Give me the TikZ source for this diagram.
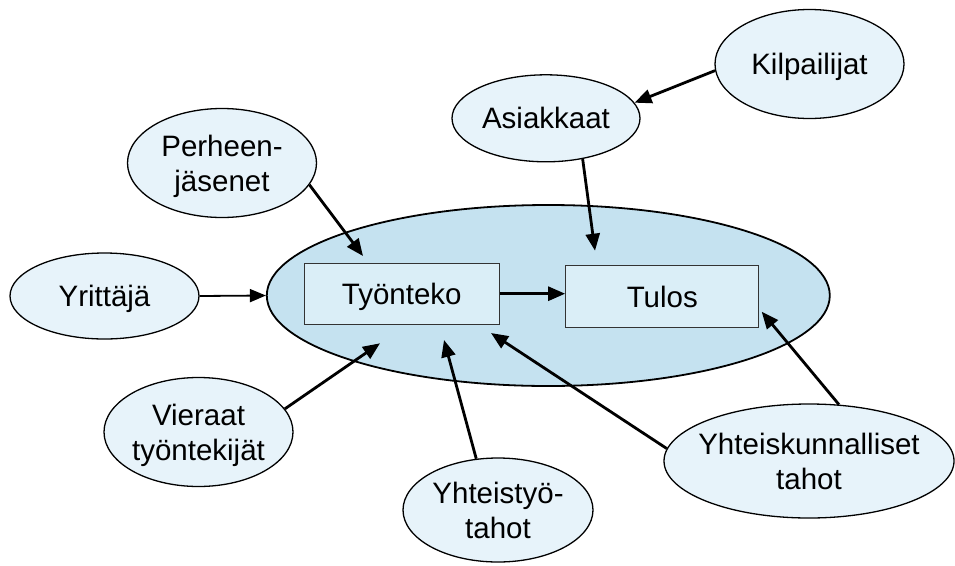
\documentclass[tikz,border=0pt]{standalone}
\usepackage{fontspec}
\setmainfont{Liberation Sans}
\usetikzlibrary{shapes.geometric,arrows.meta}

\definecolor{ringfill}{HTML}{C5E2F0}
\definecolor{bubblefill}{HTML}{E7F3FA}
\definecolor{boxfill}{HTML}{DAEEF7}

% centred (multi-line) label whose width does not enlarge the ellipse
\newcommand{\bubbletext}[1]{\makebox[0pt]{\raisebox{0pt}[\height][\dimexpr\depth-7pt\relax]{\begin{tabular}{@{}c@{}}#1\end{tabular}}}}

\begin{document}
\begin{tikzpicture}[x=1pt,y=-1pt,
  font=\fontsize{29.5}{35}\selectfont,
  bubble/.style={ellipse, draw=black, line width=1.3pt, fill=bubblefill, inner sep=0pt},
  ring/.style={ellipse, draw=black, line width=1.8pt, fill=ringfill, inner sep=0pt},
  stagebox/.style={rectangle, draw=black!80, line width=1.3pt, fill=boxfill, inner sep=0pt,
    text height=21pt, text depth=0pt},
  link/.style={-{Triangle[length=17pt,width=14pt]}, line width=2.8pt},
  thinlink/.style={-{Triangle[length=16pt,width=13pt]}, line width=1.8pt}]

\useasboundingbox (0,0) rectangle (955,565);

% core: work and result
\node[ring, minimum width=563pt, minimum height=181pt] (core) at (548.3,295.5) {};
\node[stagebox, minimum width=195pt, minimum height=61pt] (tyo) at (401.7,293.7)
  {\makebox[0pt]{Työnteko}\hspace{14pt}};
\node[stagebox, minimum width=193pt, minimum height=62pt] (tul) at (662.3,296.5)
  {\makebox[0pt]{Tulos}\hspace{13pt}};

% surrounding actors
\node[bubble, minimum width=189pt, minimum height=109pt] (kil) at (809.5,64) {\bubbletext{Kilpailijat}};
\node[bubble, minimum width=188pt, minimum height=87pt] (asi) at (546,118.3) {\bubbletext{Asiakkaat}};
\node[bubble, minimum width=189pt, minimum height=109pt] (per) at (222,163) {\bubbletext{Perheen-\\jäsenet}};
\node[bubble, minimum width=189pt, minimum height=86pt] (yri) at (104.5,296) {\bubbletext{Yrittäjä}};
\node[bubble, minimum width=189pt, minimum height=109pt] (vie) at (198.5,432) {\bubbletext{Vieraat\\työntekijät}};
\node[bubble, minimum width=190pt, minimum height=104pt] (yht) at (498,510) {\bubbletext{Yhteistyö-\\tahot}};
\node[bubble, minimum width=290pt, minimum height=114pt] (yk) at (809,461) {\bubbletext{Yhteiskunnalliset\\tahot}};

% arrow targets inside the core
\coordinate (asiTip) at (595,250.7);
\coordinate (perTip) at (363,256);
\coordinate (vieTip) at (380,343.3);
\coordinate (yhtTip) at (444,340);
\coordinate (ykTyo) at (491,333);
\coordinate (ykTul) at (761.7,311.7);

% influences
\draw[link] (kil.184) -- (asi.10.7);
\draw[link] (asi.-48.8) -- (asiTip);
\draw[link] (per.-14.5) -- (perTip);
\draw[thinlink] (yri.east) -- (core.west);
\draw[link] (tyo.east) -- (tyo.east -| tul.west);
\draw[link] (vie.15) -- (vieTip);
\draw[link] (yht.113.7) -- (yhtTip);
\draw[link] (yk.175) -- (ykTyo);
\draw[link] (yk.62.4) -- (ykTul);
\end{tikzpicture}
\end{document}
